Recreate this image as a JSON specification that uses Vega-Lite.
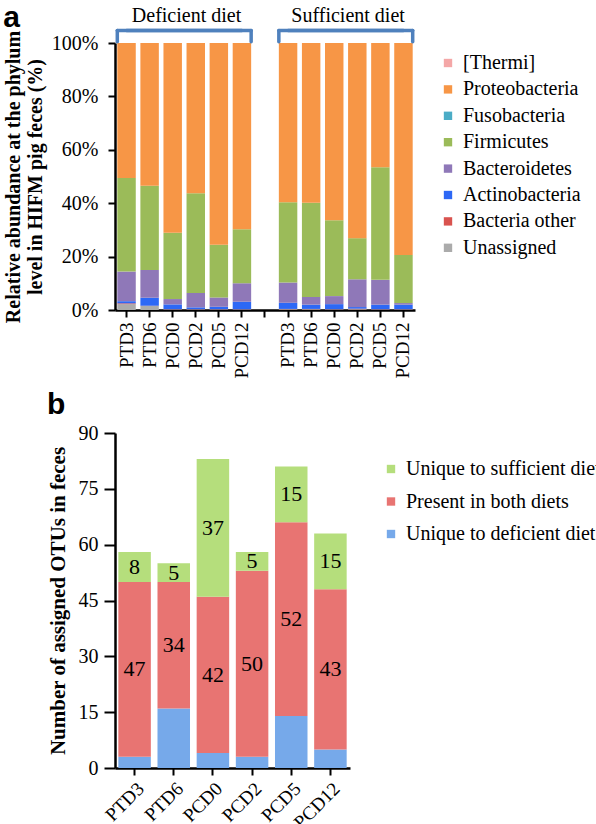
{
  "$schema": "https://vega.github.io/schema/vega-lite/v6.json",
  "background": "white",
  "padding": 3,
  "config": {
    "view": {"stroke": null},
    "axis": {"labelFont": "Liberation Serif", "titleFont": "Liberation Serif", "labelColor": "black", "titleColor": "black", "domainColor": "black", "tickColor": "black", "grid": false, "labelFontSize": 20, "titleFontSize": 20, "titleFontWeight": "bold", "domainWidth": 2.5, "tickWidth": 2},
    "legend": {"labelFont": "Liberation Serif", "labelFontSize": 20, "labelColor": "black", "symbolType": "square", "symbolSize": 70, "labelLimit": 300, "labelOffset": 5},
    "style": {"guide-label": {"font": "Liberation Serif"}},
    "title": {"font": "Liberation Sans", "color": "black"}
  },
  "datasets": {
    "phyla": [
      {"bar": "Deficient diet|PTD3", "phylum": "Unassigned", "pct": 2.2, "k": 1},
      {"bar": "Deficient diet|PTD3", "phylum": "Bacteria other", "pct": 0.3, "k": 2},
      {"bar": "Deficient diet|PTD3", "phylum": "Actinobacteria", "pct": 0.8, "k": 3},
      {"bar": "Deficient diet|PTD3", "phylum": "Bacteroidetes", "pct": 11.1, "k": 4},
      {"bar": "Deficient diet|PTD3", "phylum": "Firmicutes", "pct": 35.0, "k": 5},
      {"bar": "Deficient diet|PTD3", "phylum": "Proteobacteria", "pct": 50.6, "k": 7},
      {"bar": "Deficient diet|PTD6", "phylum": "Unassigned", "pct": 1.5, "k": 1},
      {"bar": "Deficient diet|PTD6", "phylum": "Bacteria other", "pct": 0.1, "k": 2},
      {"bar": "Deficient diet|PTD6", "phylum": "Actinobacteria", "pct": 3.0, "k": 3},
      {"bar": "Deficient diet|PTD6", "phylum": "Bacteroidetes", "pct": 10.4, "k": 4},
      {"bar": "Deficient diet|PTD6", "phylum": "Firmicutes", "pct": 31.5, "k": 5},
      {"bar": "Deficient diet|PTD6", "phylum": "Proteobacteria", "pct": 53.5, "k": 7},
      {"bar": "Deficient diet|PCD0", "phylum": "Unassigned", "pct": 0.2, "k": 1},
      {"bar": "Deficient diet|PCD0", "phylum": "Bacteria other", "pct": 0.1, "k": 2},
      {"bar": "Deficient diet|PCD0", "phylum": "Actinobacteria", "pct": 1.8, "k": 3},
      {"bar": "Deficient diet|PCD0", "phylum": "Bacteroidetes", "pct": 2.0, "k": 4},
      {"bar": "Deficient diet|PCD0", "phylum": "Firmicutes", "pct": 24.8, "k": 5},
      {"bar": "Deficient diet|PCD0", "phylum": "Proteobacteria", "pct": 71.1, "k": 7},
      {"bar": "Deficient diet|PCD2", "phylum": "Unassigned", "pct": 0.2, "k": 1},
      {"bar": "Deficient diet|PCD2", "phylum": "Bacteria other", "pct": 0.1, "k": 2},
      {"bar": "Deficient diet|PCD2", "phylum": "Actinobacteria", "pct": 0.7, "k": 3},
      {"bar": "Deficient diet|PCD2", "phylum": "Bacteroidetes", "pct": 5.4, "k": 4},
      {"bar": "Deficient diet|PCD2", "phylum": "Firmicutes", "pct": 37.3, "k": 5},
      {"bar": "Deficient diet|PCD2", "phylum": "Proteobacteria", "pct": 56.3, "k": 7},
      {"bar": "Deficient diet|PCD5", "phylum": "Unassigned", "pct": 0.2, "k": 1},
      {"bar": "Deficient diet|PCD5", "phylum": "Bacteria other", "pct": 0.1, "k": 2},
      {"bar": "Deficient diet|PCD5", "phylum": "Actinobacteria", "pct": 0.9, "k": 3},
      {"bar": "Deficient diet|PCD5", "phylum": "Bacteroidetes", "pct": 3.5, "k": 4},
      {"bar": "Deficient diet|PCD5", "phylum": "Firmicutes", "pct": 19.7, "k": 5},
      {"bar": "Deficient diet|PCD5", "phylum": "Proteobacteria", "pct": 75.6, "k": 7},
      {"bar": "Deficient diet|PCD12", "phylum": "Unassigned", "pct": 0.2, "k": 1},
      {"bar": "Deficient diet|PCD12", "phylum": "Bacteria other", "pct": 0.1, "k": 2},
      {"bar": "Deficient diet|PCD12", "phylum": "Actinobacteria", "pct": 2.8, "k": 3},
      {"bar": "Deficient diet|PCD12", "phylum": "Bacteroidetes", "pct": 6.9, "k": 4},
      {"bar": "Deficient diet|PCD12", "phylum": "Firmicutes", "pct": 20.2, "k": 5},
      {"bar": "Deficient diet|PCD12", "phylum": "Proteobacteria", "pct": 69.8, "k": 7},
      {"bar": "Sufficient diet|PTD3", "phylum": "Unassigned", "pct": 0.3, "k": 1},
      {"bar": "Sufficient diet|PTD3", "phylum": "Bacteria other", "pct": 0.1, "k": 2},
      {"bar": "Sufficient diet|PTD3", "phylum": "Actinobacteria", "pct": 2.3, "k": 3},
      {"bar": "Sufficient diet|PTD3", "phylum": "Bacteroidetes", "pct": 7.6, "k": 4},
      {"bar": "Sufficient diet|PTD3", "phylum": "Firmicutes", "pct": 30.1, "k": 5},
      {"bar": "Sufficient diet|PTD3", "phylum": "Proteobacteria", "pct": 59.6, "k": 7},
      {"bar": "Sufficient diet|PTD6", "phylum": "Unassigned", "pct": 0.3, "k": 1},
      {"bar": "Sufficient diet|PTD6", "phylum": "Bacteria other", "pct": 0.1, "k": 2},
      {"bar": "Sufficient diet|PTD6", "phylum": "Actinobacteria", "pct": 1.6, "k": 3},
      {"bar": "Sufficient diet|PTD6", "phylum": "Bacteroidetes", "pct": 2.9, "k": 4},
      {"bar": "Sufficient diet|PTD6", "phylum": "Firmicutes", "pct": 35.3, "k": 5},
      {"bar": "Sufficient diet|PTD6", "phylum": "Proteobacteria", "pct": 59.8, "k": 7},
      {"bar": "Sufficient diet|PCD0", "phylum": "Unassigned", "pct": 0.2, "k": 1},
      {"bar": "Sufficient diet|PCD0", "phylum": "Bacteria other", "pct": 0.1, "k": 2},
      {"bar": "Sufficient diet|PCD0", "phylum": "Actinobacteria", "pct": 1.9, "k": 3},
      {"bar": "Sufficient diet|PCD0", "phylum": "Bacteroidetes", "pct": 3.0, "k": 4},
      {"bar": "Sufficient diet|PCD0", "phylum": "Firmicutes", "pct": 28.4, "k": 5},
      {"bar": "Sufficient diet|PCD0", "phylum": "Proteobacteria", "pct": 66.4, "k": 7},
      {"bar": "Sufficient diet|PCD2", "phylum": "Unassigned", "pct": 0.3, "k": 1},
      {"bar": "Sufficient diet|PCD2", "phylum": "Bacteria other", "pct": 0.2, "k": 2},
      {"bar": "Sufficient diet|PCD2", "phylum": "Actinobacteria", "pct": 0.6, "k": 3},
      {"bar": "Sufficient diet|PCD2", "phylum": "Bacteroidetes", "pct": 10.4, "k": 4},
      {"bar": "Sufficient diet|PCD2", "phylum": "Firmicutes", "pct": 15.4, "k": 5},
      {"bar": "Sufficient diet|PCD2", "phylum": "Proteobacteria", "pct": 73.1, "k": 7},
      {"bar": "Sufficient diet|PCD5", "phylum": "Unassigned", "pct": 0.2, "k": 1},
      {"bar": "Sufficient diet|PCD5", "phylum": "Bacteria other", "pct": 0.1, "k": 2},
      {"bar": "Sufficient diet|PCD5", "phylum": "Actinobacteria", "pct": 1.7, "k": 3},
      {"bar": "Sufficient diet|PCD5", "phylum": "Bacteroidetes", "pct": 9.3, "k": 4},
      {"bar": "Sufficient diet|PCD5", "phylum": "Firmicutes", "pct": 42.2, "k": 5},
      {"bar": "Sufficient diet|PCD5", "phylum": "Proteobacteria", "pct": 46.5, "k": 7},
      {"bar": "Sufficient diet|PCD12", "phylum": "Unassigned", "pct": 0.2, "k": 1},
      {"bar": "Sufficient diet|PCD12", "phylum": "Bacteria other", "pct": 0.1, "k": 2},
      {"bar": "Sufficient diet|PCD12", "phylum": "Actinobacteria", "pct": 1.7, "k": 3},
      {"bar": "Sufficient diet|PCD12", "phylum": "Bacteroidetes", "pct": 0.6, "k": 4},
      {"bar": "Sufficient diet|PCD12", "phylum": "Firmicutes", "pct": 18.0, "k": 5},
      {"bar": "Sufficient diet|PCD12", "phylum": "Proteobacteria", "pct": 79.4, "k": 7}
    ],
    "brackets": [
      {"diet": "Deficient diet", "first": "Deficient diet|PTD3", "last": "Deficient diet|PCD12", "middle": "Deficient diet|PCD2"},
      {"diet": "Sufficient diet", "first": "Sufficient diet|PTD3", "last": "Sufficient diet|PCD12", "middle": "Sufficient diet|PCD2"}
    ],
    "otus": [
      {"sample": "PTD3", "group": "Unique to deficient diet", "n": 3, "k": 1},
      {"sample": "PTD3", "group": "Present in both diets", "n": 47, "k": 2},
      {"sample": "PTD3", "group": "Unique to sufficient diet", "n": 8, "k": 3},
      {"sample": "PTD6", "group": "Unique to deficient diet", "n": 16, "k": 1},
      {"sample": "PTD6", "group": "Present in both diets", "n": 34, "k": 2},
      {"sample": "PTD6", "group": "Unique to sufficient diet", "n": 5, "k": 3},
      {"sample": "PCD0", "group": "Unique to deficient diet", "n": 4, "k": 1},
      {"sample": "PCD0", "group": "Present in both diets", "n": 42, "k": 2},
      {"sample": "PCD0", "group": "Unique to sufficient diet", "n": 37, "k": 3},
      {"sample": "PCD2", "group": "Unique to deficient diet", "n": 3, "k": 1},
      {"sample": "PCD2", "group": "Present in both diets", "n": 50, "k": 2},
      {"sample": "PCD2", "group": "Unique to sufficient diet", "n": 5, "k": 3},
      {"sample": "PCD5", "group": "Unique to deficient diet", "n": 14, "k": 1},
      {"sample": "PCD5", "group": "Present in both diets", "n": 52, "k": 2},
      {"sample": "PCD5", "group": "Unique to sufficient diet", "n": 15, "k": 3},
      {"sample": "PCD12", "group": "Unique to deficient diet", "n": 5, "k": 1},
      {"sample": "PCD12", "group": "Present in both diets", "n": 43, "k": 2},
      {"sample": "PCD12", "group": "Unique to sufficient diet", "n": 15, "k": 3}
    ]
  },
  "spacing": 12,
  "resolve": {"scale": {"color": "independent"}, "legend": {"color": "independent"}},
  "vconcat": [
    {
      "width": 300,
      "height": 267,
      "title": {"text": "a", "anchor": "start", "fontSize": 30, "fontWeight": "bold", "offset": -27},
      "data": {"name": "phyla"},
      "encoding": {
        "x": {"field": "bar", "type": "nominal", "title": null,
          "scale": {"domain": ["Deficient diet|PTD3", "Deficient diet|PTD6", "Deficient diet|PCD0", "Deficient diet|PCD2", "Deficient diet|PCD5", "Deficient diet|PCD12", "|", "Sufficient diet|PTD3", "Sufficient diet|PTD6", "Sufficient diet|PCD0", "Sufficient diet|PCD2", "Sufficient diet|PCD5", "Sufficient diet|PCD12"], "paddingInner": 0.2, "paddingOuter": 0.1},
          "axis": {"labelExpr": "substring(datum.value, indexof(datum.value, '|') + 1)", "labelAngle": -90, "labelFont": "Liberation Serif", "labelFontSize": 19, "tickSize": 7, "labelPadding": 5}}
      },
      "layer": [
        {
          "mark": {"type": "bar"},
          "encoding": {
            "y": {"field": "pct", "type": "quantitative", "stack": "normalize",
              "scale": {"domain": [0, 1], "nice": false},
              "axis": {"values": [0, 0.2, 0.4, 0.6, 0.8, 1], "format": ".0%", "labelFont": "Liberation Serif", "title": ["Relative abundance at the phylum", "level in HIFM pig feces (%)"], "titlePadding": 6, "tickSize": 7, "labelPadding": 10}},
            "color": {"field": "phylum", "type": "nominal",
              "scale": {"domain": ["[Thermi]", "Proteobacteria", "Fusobacteria", "Firmicutes", "Bacteroidetes", "Actinobacteria", "Bacteria other", "Unassigned"],
                "range": ["#F4A7A7", "#F79646", "#4BACC6", "#9BBB59", "#8F78B8", "#2D68F5", "#D9534F", "#ABABAB"]},
              "legend": {"title": null, "labelFont": "Liberation Serif", "offset": 13, "padding": 10, "rowPadding": 6.4}},
            "order": {"field": "k", "type": "quantitative"}
          }
        },
        {
          "data": {"name": "brackets"},
          "mark": {"type": "rule", "color": "#4F81BD", "strokeWidth": 3.5, "strokeCap": "round"},
          "encoding": {
            "x": {"field": "first", "type": "nominal", "bandPosition": 0, "title": null},
            "y": {"datum": 1.005},
            "y2": {"datum": 1.047}
          }
        },
        {
          "data": {"name": "brackets"},
          "mark": {"type": "rule", "color": "#4F81BD", "strokeWidth": 3.5, "strokeCap": "round"},
          "encoding": {
            "x": {"field": "last", "type": "nominal", "bandPosition": 1, "title": null},
            "y": {"datum": 1.005},
            "y2": {"datum": 1.047}
          }
        },
        {
          "data": {"name": "brackets"},
          "mark": {"type": "rule", "color": "#4F81BD", "strokeWidth": 3.5, "strokeCap": "round"},
          "encoding": {
            "x": {"field": "first", "type": "nominal", "bandPosition": 0, "title": null},
            "x2": {"field": "last"},
            "y": {"datum": 1.047}
          }
        },
        {
          "data": {"name": "brackets"},
          "mark": {"type": "rule", "color": "#4F81BD", "strokeWidth": 3.5, "strokeCap": "round"},
          "encoding": {
            "x": {"field": "last", "type": "nominal", "bandPosition": 1, "title": null},
            "x2": {"field": "first"},
            "y": {"datum": 1.047}
          }
        },
        {
          "data": {"name": "brackets"},
          "mark": {"type": "text", "fontSize": 20, "font": "Liberation Serif", "baseline": "middle", "align": "center", "color": "black"},
          "encoding": {
            "x": {"field": "middle", "type": "nominal", "bandPosition": 0, "title": null},
            "y": {"datum": 1.1},
            "text": {"field": "diet"}
          }
        }
      ]
    },
    {
      "width": 235,
      "height": 335,
      "title": {"text": "b", "anchor": "start", "fontSize": 30, "fontWeight": "bold", "offset": 3},
      "data": {"name": "otus"},
      "encoding": {
        "x": {"field": "sample", "type": "nominal", "title": null, "sort": ["PTD3", "PTD6", "PCD0", "PCD2", "PCD5", "PCD12"],
          "scale": {"paddingInner": 0.17, "paddingOuter": 0.085},
          "axis": {"labelAngle": -45, "labelFont": "Liberation Serif", "labelFontSize": 19, "tickSize": 7, "labelPadding": 4}}
      },
      "layer": [
        {
          "mark": {"type": "bar"},
          "encoding": {
            "y": {"field": "n", "type": "quantitative", "stack": "zero",
              "scale": {"domain": [0, 90], "nice": false},
              "axis": {"values": [0, 15, 30, 45, 60, 75, 90], "labelFont": "Liberation Serif", "title": "Number of assigned OTUs in feces", "titleFontSize": 21, "titlePadding": 10, "tickSize": 11, "labelPadding": 6}},
            "color": {"field": "group", "type": "nominal",
              "scale": {"domain": ["Unique to sufficient diet", "Present in both diets", "Unique to deficient diet"],
                "range": ["#B5DE7C", "#E87472", "#76A9EA"]},
              "legend": {"title": null, "labelFont": "Liberation Serif", "offset": 5, "padding": 26, "rowPadding": 12.5}},
            "order": {"field": "k", "type": "quantitative"}
          }
        },
        {
          "transform": [
            {"stack": "n", "groupby": ["sample"], "sort": [{"field": "k", "order": "ascending"}], "as": ["n0", "n1"]},
            {"filter": "datum.k > 1"},
            {"calculate": "(datum.n0 + datum.n1) / 2", "as": "mid"}
          ],
          "mark": {"type": "text", "fontSize": 22, "font": "Liberation Serif", "color": "black", "baseline": "middle", "align": "center"},
          "encoding": {
            "y": {"field": "mid", "type": "quantitative", "title": "Number of assigned OTUs in feces"},
            "text": {"field": "n", "type": "quantitative"}
          }
        }
      ]
    }
  ]
}
